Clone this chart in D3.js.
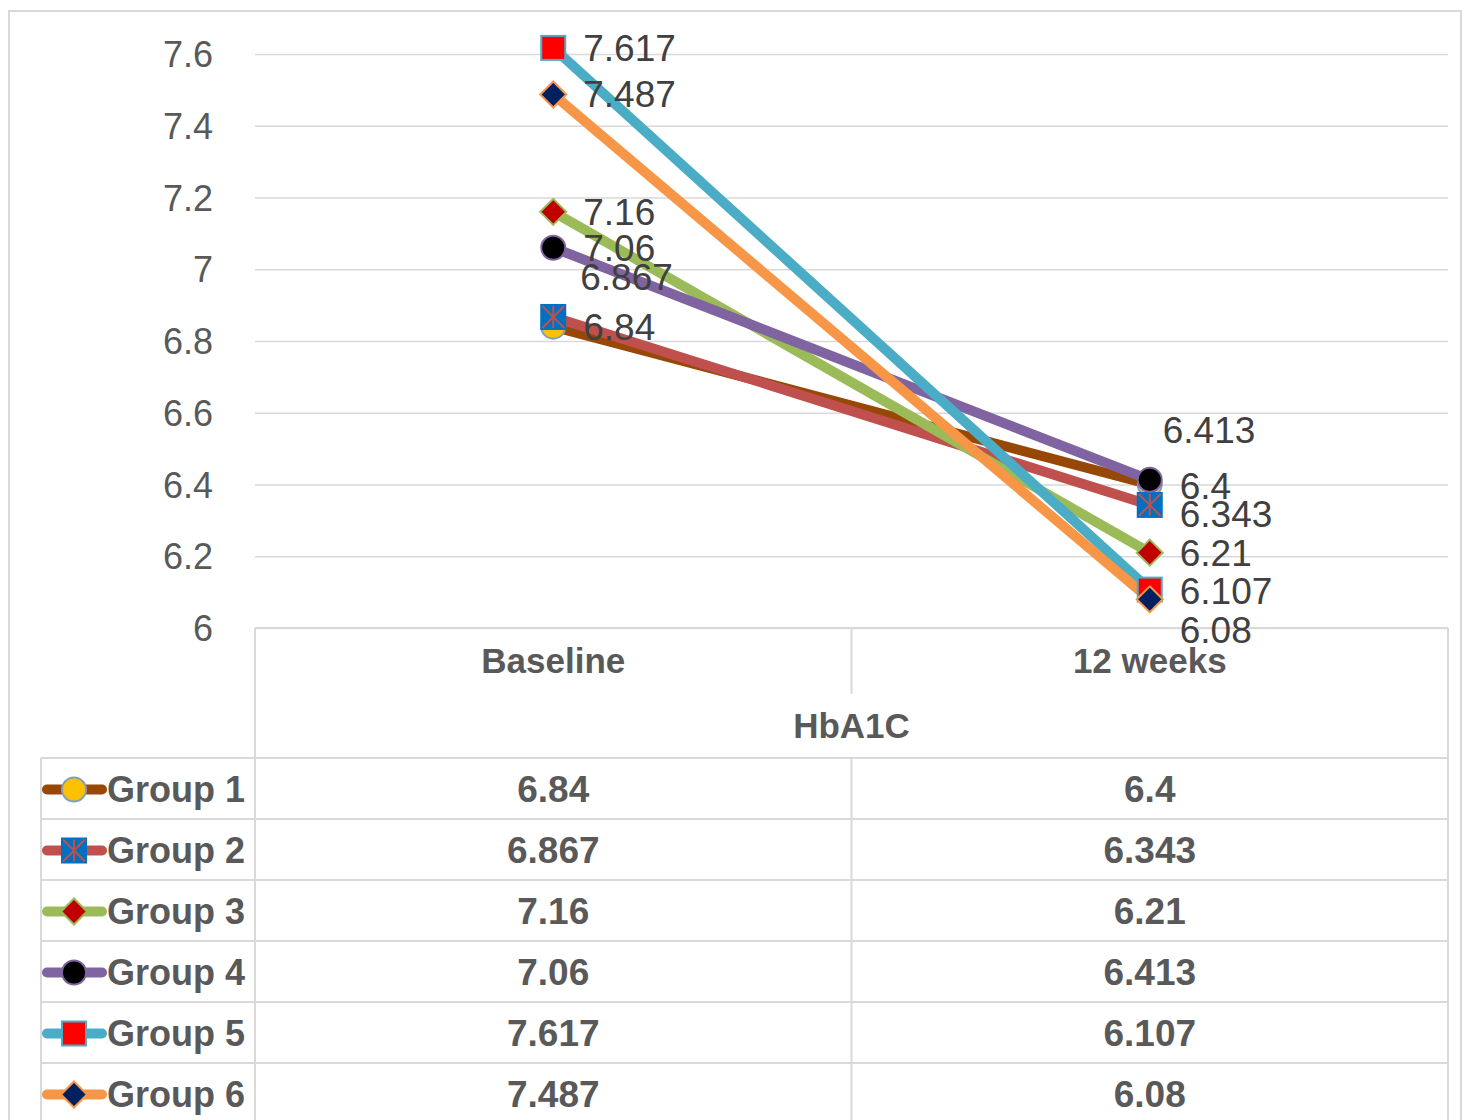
<!DOCTYPE html>
<html><head><meta charset="utf-8">
<script src="https://cdn.jsdelivr.net/npm/d3@7"></script>
<style>
html,body{margin:0;padding:0;background:#fff;}
svg{display:block;}
</style></head>
<body>
<svg id="chart" width="1469" height="1120"></svg>
<script>
// ---- data ----
const categories = ["Baseline", "12 weeks"];
const axisTitle = "HbA1C";
const seriesNames = ["Group 1", "Group 2", "Group 3", "Group 4", "Group 5", "Group 6"];
const baselineValues = [6.84, 6.867, 7.16, 7.06, 7.617, 7.487];
const week12Values = [6.4, 6.343, 6.21, 6.413, 6.107, 6.08];
const valueLabels = [["6.84","6.4"],["6.867","6.343"],["7.16","6.21"],["7.06","6.413"],["7.617","6.107"],["7.487","6.08"]];
const yTicks = [6, 6.2, 6.4, 6.6, 6.8, 7, 7.2, 7.4, 7.6];
const yTickLabels = ["6","6.2","6.4","6.6","6.8","7","7.2","7.4","7.6"];

// ---- styles ----
const lineColors = ["#974706", "#C0504D", "#9BBB59", "#8064A2", "#4BACC6", "#F79646"];
const markerShapes = ["circle", "squareStar", "diamond", "circle", "square", "diamond"];
const markerFills = ["#FFC000", "#0070C0", "#C00000", "#000000", "#FF0000", "#002060"];
const markerStrokes = ["#7F9FBF", "#0070C0", "#9BBB59", "#8064A2", "#4BACC6", "#F79646"];
// label offsets [dx, dy] per series per category (collision adjustments as in reference)
const labelOffsets = [[[30,0],[30,2]],[[27,-40],[30,9]],[[30,0],[30,0]],[[30,0],[13,-50]],[[30,0],[30,1]],[[30,0],[30,31]]];

const svg = d3.select("#chart");
const gridColor = "#D9D9D9";
const plotL = 255, plotR = 1448, plotT = 54, plotB = 628;

const y = d3.scaleLinear().domain([6, 7.6]).range([plotB, plotT]);
const x = d3.scalePoint().domain(categories).range([plotL, plotR]).padding(0.5);

// outer border
svg.append("rect").attr("x", 9).attr("y", 11).attr("width", 1452).attr("height", 1130)
  .attr("fill", "none").attr("stroke", gridColor).attr("stroke-width", 2);

// gridlines + y tick labels via axis
const yAxis = d3.axisLeft(y).tickValues(yTicks)
  .tickSize(-(plotR - plotL)).tickPadding(42)
  .tickFormat((d, i) => yTickLabels[i]);
const gy = svg.append("g").attr("transform", `translate(${plotL},0)`).call(yAxis);
gy.select(".domain").remove();
gy.selectAll(".tick line").attr("stroke", gridColor).attr("stroke-width", 1.5);
gy.selectAll(".tick text").attr("font-family", "Liberation Sans, Arial, sans-serif")
  .attr("font-size", 36).attr("fill", "#595959").attr("dy", "0.35em");

// data table lines
const rowTop = 758, rowH = 61;
const colMid = (x("Baseline") + x("12 weeks")) / 2;
const tbl = svg.append("g").attr("stroke", gridColor).attr("stroke-width", 2);
tbl.append("line").attr("x1", plotL).attr("x2", plotR).attr("y1", plotB).attr("y2", plotB);
tbl.append("line").attr("x1", plotL).attr("x2", plotL).attr("y1", plotB).attr("y2", 1130);
tbl.append("line").attr("x1", plotR).attr("x2", plotR).attr("y1", plotB).attr("y2", 1130);
tbl.append("line").attr("x1", colMid).attr("x2", colMid).attr("y1", plotB).attr("y2", 694);
tbl.append("line").attr("x1", colMid).attr("x2", colMid).attr("y1", rowTop).attr("y2", 1130);
tbl.append("line").attr("x1", 41).attr("x2", 41).attr("y1", rowTop).attr("y2", 1130);
seriesNames.forEach((s, i) => {
  tbl.append("line").attr("x1", 41).attr("x2", plotR)
    .attr("y1", rowTop + i * rowH).attr("y2", rowTop + i * rowH);
});

// category labels and axis title
svg.selectAll(".cat").data(categories).enter().append("text")
  .attr("x", d => x(d)).attr("y", 661).attr("dy", "0.35em")
  .attr("text-anchor", "middle").attr("font-family", "Liberation Sans, Arial, sans-serif")
  .attr("font-weight", "bold").attr("font-size", 35).attr("fill", "#595959").text(d => d);
svg.append("text").attr("x", colMid).attr("y", 726).attr("dy", "0.35em")
  .attr("text-anchor", "middle").attr("font-family", "Liberation Sans, Arial, sans-serif")
  .attr("font-weight", "bold").attr("font-size", 35).attr("fill", "#595959").text(axisTitle);

// marker drawing
function drawMarker(g, shape, cx, cy, fill, stroke) {
  if (shape === "circle") {
    g.append("circle").attr("cx", cx).attr("cy", cy).attr("r", 12)
      .attr("fill", fill).attr("stroke", stroke).attr("stroke-width", 2);
  } else if (shape === "square" || shape === "squareStar") {
    const s = shape === "square" ? 24 : 24;
    g.append("rect").attr("x", cx - s/2).attr("y", cy - s/2).attr("width", s).attr("height", s)
      .attr("fill", fill).attr("stroke", stroke).attr("stroke-width", 2);
    if (shape === "squareStar") {
      const h = s/2 - 1;
      const st = g.append("g").attr("stroke", "#C0504D").attr("stroke-width", 2);
      st.append("line").attr("x1", cx-h).attr("y1", cy-h).attr("x2", cx+h).attr("y2", cy+h);
      st.append("line").attr("x1", cx+h).attr("y1", cy-h).attr("x2", cx-h).attr("y2", cy+h);
      st.append("line").attr("x1", cx).attr("y1", cy-h).attr("x2", cx).attr("y2", cy+h);
    }
  } else if (shape === "diamond") {
    const r = 13;
    g.append("path").attr("d", `M${cx},${cy-r}L${cx+r},${cy}L${cx},${cy+r}L${cx-r},${cy}Z`)
      .attr("fill", fill).attr("stroke", stroke).attr("stroke-width", 2);
  }
}

const seriesData = seriesNames.map((name, i) => ({
  name, i, values: [baselineValues[i], week12Values[i]]
}));

// lines
const line = d3.line().x((d, j) => x(categories[j])).y(d => y(d));
svg.append("g").selectAll("path").data(seriesData).enter().append("path")
  .attr("d", d => line(d.values)).attr("fill", "none")
  .attr("stroke", d => lineColors[d.i]).attr("stroke-width", 10).attr("stroke-linecap", "round");

// markers
const mg = svg.append("g");
seriesData.forEach(d => {
  d.values.forEach((v, j) => {
    drawMarker(mg, markerShapes[d.i], x(categories[j]), y(v), markerFills[d.i], markerStrokes[d.i]);
  });
});

// data labels
const lg = svg.append("g");
seriesData.forEach(d => {
  d.values.forEach((v, j) => {
    const off = labelOffsets[d.i][j];
    lg.append("text").attr("x", x(categories[j]) + off[0]).attr("y", y(v) + off[1])
      .attr("dy", "0.35em").attr("font-family", "Liberation Sans, Arial, sans-serif")
      .attr("font-size", 37).attr("fill", "#404040").text(valueLabels[d.i][j]);
  });
});

// table rows: legend keys, names, values
const rg = svg.append("g");
seriesData.forEach(d => {
  const cy = rowTop + d.i * rowH + rowH / 2 + 1;
  rg.append("line").attr("x1", 47).attr("x2", 102).attr("y1", cy).attr("y2", cy)
    .attr("stroke", lineColors[d.i]).attr("stroke-width", 10).attr("stroke-linecap", "round");
  drawMarker(rg, markerShapes[d.i], 74, cy, markerFills[d.i], markerStrokes[d.i]);
  rg.append("text").attr("x", 107).attr("y", cy).attr("dy", "0.35em")
    .attr("font-family", "Liberation Sans, Arial, sans-serif").attr("font-weight", "bold")
    .attr("font-size", 36).attr("fill", "#595959").text(d.name);
  d.values.forEach((v, j) => {
    rg.append("text").attr("x", x(categories[j])).attr("y", cy).attr("dy", "0.35em")
      .attr("text-anchor", "middle")
      .attr("font-family", "Liberation Sans, Arial, sans-serif").attr("font-weight", "bold")
      .attr("font-size", 37).attr("fill", "#595959").text(valueLabels[d.i][j]);
  });
});
</script>
</body></html>
